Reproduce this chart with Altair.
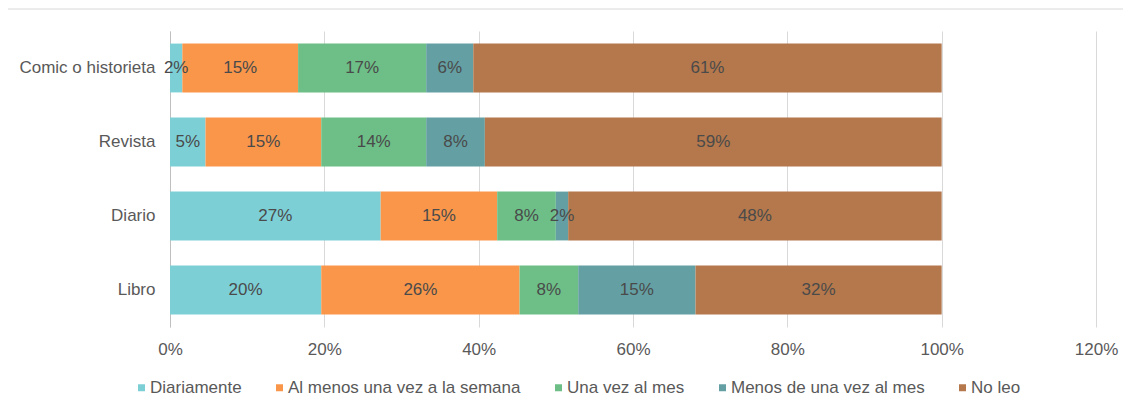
import altair as alt
import pandas as pd

medios = ["Comic o historieta", "Revista", "Diario", "Libro"]
frecuencias = ["Diariamente", "Al menos una vez a la semana", "Una vez al mes",
               "Menos de una vez al mes", "No leo"]
colores = ["#7dcfd6", "#f9964a", "#6dbf87", "#64a0a3", "#b4784c"]

# percent values per medio, in order of frecuencias
comic = [1.6, 15.0, 16.6, 6.1, 60.7]
revista = [4.6, 15.0, 13.6, 7.6, 59.2]
diario = [27.3, 15.1, 7.6, 1.6, 48.4]
libro = [19.6, 25.7, 7.6, 15.2, 31.9]

x_ticks = [0, 0.2, 0.4, 0.6, 0.8, 1.0, 1.2]

rows = []
for medio, vals in zip(medios, [comic, revista, diario, libro]):
    for i, (f, v) in enumerate(zip(frecuencias, vals)):
        rows.append({"medio": medio, "frecuencia": f, "orden": i, "pct": v})
df = pd.DataFrame(rows)

FONT = "Liberation Sans"

base = alt.Chart(df).transform_calculate(
    val="datum.pct / 100"
).transform_stack(
    stack="val", groupby=["medio"], as_=["x0", "x1"],
    sort=[alt.SortField("orden", order="ascending")]
).transform_calculate(
    mid="(datum.x0 + datum.x1) / 2"
)

y_enc = alt.Y("medio:N", sort=medios, title=None,
              scale=alt.Scale(paddingInner=0.34, paddingOuter=0.17),
              axis=alt.Axis(ticks=False, labelPadding=15, domain=True,
                            domainColor="#bfbfbf", grid=False,
                            labelFont=FONT, labelFontSize=17,
                            labelColor="#595959"))

bars = base.mark_bar().encode(
    x=alt.X("x0:Q", title=None,
            scale=alt.Scale(domain=[0, 1.2], nice=False),
            axis=alt.Axis(values=x_ticks, format=".0%", ticks=False,
                          domain=False, grid=True, gridColor="#d9d9d9",
                          labelFlush=False,
                          labelPadding=14, labelFont=FONT, labelFontSize=17,
                          labelColor="#595959")),
    x2="x1:Q",
    y=y_enc,
    color=alt.Color("frecuencia:N", sort=frecuencias,
                    scale=alt.Scale(domain=frecuencias, range=colores),
                    legend=alt.Legend(title=None, orient="none",
                                      direction="horizontal", columns=5,
                                      legendX=-37, legendY=348,
                                      symbolType="square", symbolSize=49,
                                      symbolStrokeWidth=0, labelOffset=0,
                                      columnPadding=29, padding=0,
                                      labelLimit=0,
                                      labelFont=FONT, labelFontSize=17,
                                      labelColor="#595959")),
    order=alt.Order("orden:Q"),
)

labels = base.mark_text(font=FONT, fontSize=17, color="#4a4a4a").encode(
    x=alt.X("mid:Q"),
    y=alt.Y("medio:N", sort=medios),
    text=alt.Text("val:Q", format=".0%"),
)

border = alt.Chart(pd.DataFrame({"a": [0]})).mark_rule(
    color="#d9d9d9", strokeWidth=1
).encode(
    x=alt.value(-162), x2=alt.value(960), y=alt.value(-22)
)

chart = alt.layer(bars, labels, border).properties(
    width=926, height=296,
    autosize=alt.AutoSizeParams(type="none"),
    padding={"left": 162, "top": 23, "right": 27, "bottom": 74},
).configure_view(stroke=None)

chart.save("out.html", embed_options={"renderer": "svg", "actions": False})
